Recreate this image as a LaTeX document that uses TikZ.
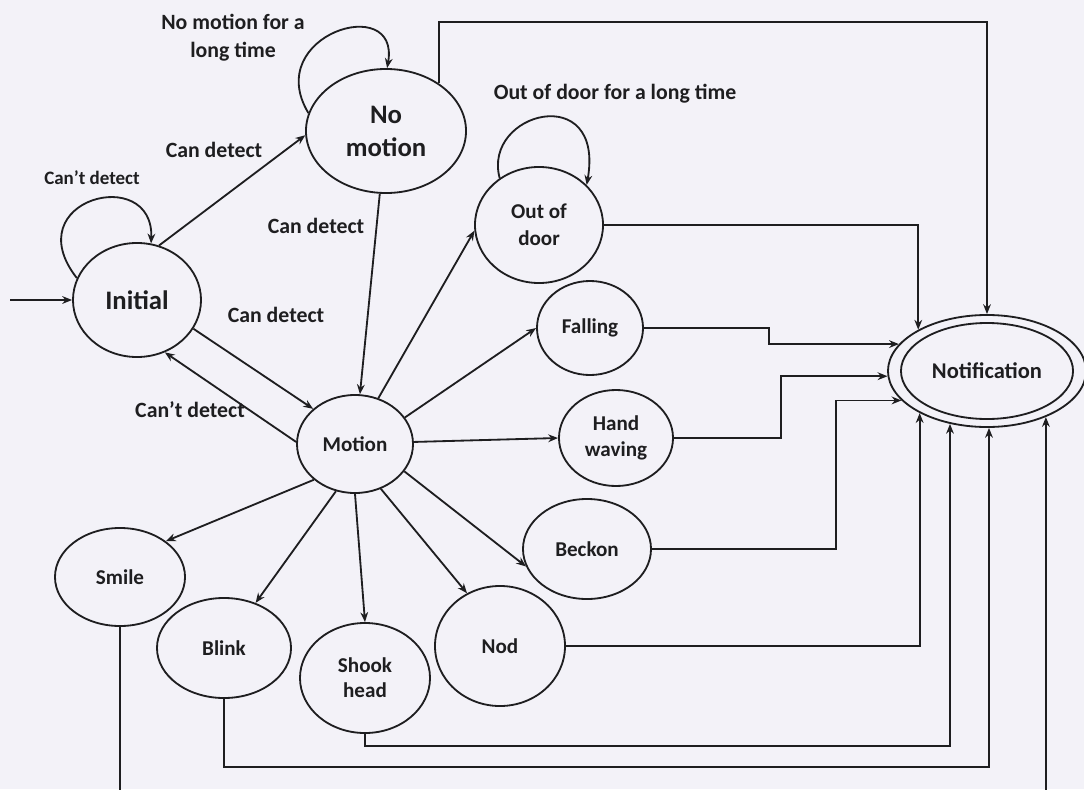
\documentclass[tikz,border=0pt]{standalone}
\usepackage{fontspec}
\setmainfont{Carlito}
\usetikzlibrary{arrows.meta, shapes.geometric}
\definecolor{paper}{RGB}{243,242,248}
\definecolor{ink}{RGB}{30,30,32}

\begin{document}
\begin{tikzpicture}[x=0.025cm, y=-0.025cm,
    state/.style = {draw=ink, text=ink, ellipse, line width=1.3pt, inner sep=0pt,
        align=center, font=\fontsize{15}{19}\selectfont\bfseries},
    lbl/.style = {text=ink, align=center,
        font=\fontsize{15.5}{20}\selectfont\bfseries},
    link/.style = {draw=ink, line width=1.3pt,
        -{Stealth[length=7pt,width=5.5pt]}}]
  \clip (0,0) rectangle (1084,789);
  \fill[paper] (0,0) rectangle (1084,789);

  % states
  \node (ini) [state, minimum width=32mm, minimum height=28.5mm,
      font=\fontsize{19}{23}\selectfont\bfseries] at (137,300) {Initial};
  \node (nom) [state, minimum width=40mm, minimum height=31mm,
      font=\fontsize{19}{23.5}\selectfont\bfseries] at (386,131) {No\\motion};
  \node (mot) [state, minimum width=29mm, minimum height=24.5mm] at (355,444) {Motion};
  \node (ood) [state, minimum width=32mm, minimum height=29mm] at (539,225) {Out of\\door};
  \node (fal) [state, minimum width=26.5mm, minimum height=23.5mm] at (590,328) {Falling};
  \node (hw)  [state, minimum width=28.5mm, minimum height=24mm] at (616,438) {Hand\\waving};
  \node (bec) [state, minimum width=32mm, minimum height=25mm] at (587,549) {Beckon};
  \node (nod) [state, minimum width=32.5mm, minimum height=30mm] at (500,646) {Nod};
  \node (shk) [state, minimum width=32.5mm, minimum height=27.5mm,
      font=\fontsize{15}{18}\selectfont\bfseries] at (365,678) {Shook\\head};
  \node (blk) [state, minimum width=33.5mm, minimum height=25mm] at (224,648) {Blink};
  \node (sml) [state, minimum width=32.5mm, minimum height=24.5mm] at (120,577) {Smile};
  \node (ntf) [state, minimum width=43mm, minimum height=24mm,
      font=\fontsize{16}{19}\selectfont\bfseries] at (987,371) {Notification};
  \node (ntfo) [state, minimum width=49.5mm, minimum height=28mm] at (987,371) {};
  \coordinate (start) at (10,300);

  % labels
  \node (lcd0) [lbl, font=\fontsize{13.5}{16}\selectfont\bfseries] at (92,178) {Can't detect};
  \node (lcd1) [lbl] at (214,150) {Can detect};
  \node (lnm)  [lbl] at (233,38) {No motion for a\\long time};
  \node (lcd2) [lbl] at (316,226) {Can detect};
  \node (lcd3) [lbl] at (276,315) {Can detect};
  \node (lcd4) [lbl] at (190,410) {Can't detect};
  \node (lood) [lbl] at (615,94) {Out of door for a long time};

  % transitions
  \draw[link] (start) -- (ini);
  \draw[link] (ini.160) .. controls +(128:2.5cm) and +(88:2cm) .. (ini.76);
  \draw[link] (nom.167) .. controls +(121:2.28cm) and +(80:1.93cm) .. (nom.89);
  \draw[link] (ood.130) .. controls +(105:1.71cm) and +(80:2.66cm) .. (ood.40);
  \draw[link] (ini.68) -- (nom.183);
  \draw[link] (nom) -- (mot);
  \draw[link] (ini.-27) -- (mot.140);
  \draw[link] (mot.178) -- (ini.-62);
  \draw[link] (mot.63) -- (ood.185);
  \draw[link] (mot.28) -- (fal.180);
  \draw[link] (mot.2) -- (hw.180);
  \draw[link] (mot.-29) -- (bec.196);
  \draw[link] (mot.-60) -- (nod.122);
  \draw[link] (mot.south) -- (shk.north);
  \draw[link] (mot.-112) -- (blk.55);
  \draw[link] (mot.221) -- (sml.38);

  % to notification
  \draw[link] (nom.42) |- (987,22) -- (ntfo.north);
  \draw[link] (ood.east) -| (ntfo.149);
  \draw[link] (fal.east) -- ++(125,0) |- (ntfo.163);
  \draw[link] (hw.east) -- ++(107,0) |- (ntfo.183);
  \draw[link] (bec.east) -- ++(184,0) |- (ntfo.199);
  \draw[link] (nod.east) -| (ntfo.212);
  \draw[link] (shk.south) -- ++(0,12) -| (ntfo.235);
  \draw[link] (blk.south) -- ++(0,68) -| (ntfo.272);
  \draw[link] (sml.south) -- ++(0,180) -| (ntfo.-38);
\end{tikzpicture}
\end{document}
